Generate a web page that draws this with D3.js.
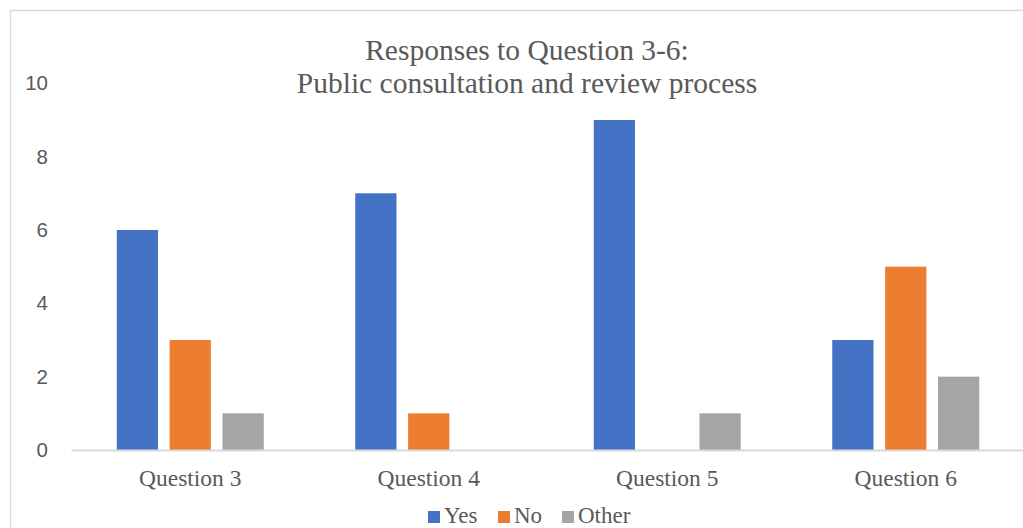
<!DOCTYPE html>
<html>
<head>
<meta charset="utf-8">
<script src="https://cdn.jsdelivr.net/npm/d3@7"></script>
<style>
  body { margin: 0; background: #fff; }
  svg { display: block; }
</style>
</head>
<body>
<div id="chart"></div>
<script>
// chart data
var categories = ["Question 3", "Question 4", "Question 5", "Question 6"];
var series = ["Yes", "No", "Other"];
var yes = [6, 7, 9, 3];
var no = [3, 1, 0, 5];
var other = [1, 0, 1, 2];
var y_ticks = [0, 2, 4, 6, 8, 10];
var title_lines = ["Responses to Question 3-6:", "Public consultation and review process"];

var colors = { Yes: "#4472c4", No: "#ed7d31", Other: "#a5a5a5" };
var values = { Yes: yes, No: no, Other: other };

var width = 1023, height = 528,
    plot = { left: 71, right: 1025, top: 83.3, bottom: 450 },
    text_color = "#595959",
    serif = "'Liberation Serif', 'Times New Roman', serif",
    sans = "'Liberation Sans', Arial, sans-serif";

var svg = d3.select("#chart").append("svg")
    .attr("width", width)
    .attr("height", height);

// chart frame (right and bottom run off the picture)
svg.append("rect")
    .attr("x", 10.5).attr("y", 10.5)
    .attr("width", 1030).attr("height", 540)
    .attr("fill", "#fff")
    .attr("stroke", "#d9d9d9")
    .attr("stroke-width", 1.5);

// scales
var x = d3.scaleBand()
    .domain(categories)
    .range([plot.left, plot.right])
    .paddingInner(0).paddingOuter(0);

var group_w = 147;
var x_inner = d3.scaleBand()
    .domain(series)
    .range([-group_w / 2, group_w / 2])
    .paddingInner(0.22).paddingOuter(0);

var y = d3.scaleLinear()
    .domain([0, 10])
    .range([plot.bottom, plot.top]);

// title
svg.append("text")
    .attr("text-anchor", "middle")
    .style("font-family", serif)
    .style("font-size", "29.5px")
    .attr("fill", text_color)
    .selectAll("tspan")
    .data(title_lines)
    .enter().append("tspan")
    .attr("x", 527)
    .attr("y", function(d, i) { return 59.5 + i * 33; })
    .text(function(d) { return d; });

// y axis labels (no axis line)
var y_axis = svg.append("g")
    .attr("transform", "translate(48,0)")
    .call(d3.axisLeft(y).tickValues(y_ticks).tickSize(0).tickPadding(0));
y_axis.select(".domain").remove();
y_axis.selectAll("text")
    .style("font-family", sans)
    .style("font-size", "20.5px")
    .attr("fill", text_color);

// bars
var groups = svg.append("g").selectAll("g")
    .data(categories)
    .enter().append("g")
    .attr("transform", function(d) { return "translate(" + (x(d) + x.bandwidth() / 2) + ",0)"; });

groups.selectAll("rect")
    .data(function(d, i) {
        return series.map(function(s) { return { key: s, value: values[s][i] }; });
    })
    .enter().append("rect")
    .filter(function(d) { return d.value > 0; })
    .attr("x", function(d) { return x_inner(d.key); })
    .attr("y", function(d) { return y(d.value); })
    .attr("width", x_inner.bandwidth())
    .attr("height", function(d) { return y(0) - y(d.value); })
    .attr("fill", function(d) { return colors[d.key]; });

// x axis
var x_axis = svg.append("g")
    .attr("transform", "translate(0," + plot.bottom + ")")
    .call(d3.axisBottom(x).tickSize(0));
x_axis.select(".domain")
    .attr("stroke", "#d9d9d9")
    .attr("stroke-width", 2);
x_axis.selectAll("text")
    .attr("y", 36).attr("dy", null)
    .style("font-family", serif)
    .style("font-size", "23.5px")
    .attr("fill", text_color);

// legend
var legend = svg.append("g").attr("transform", "translate(0,517)");
var legend_x = [428, 498, 562];
var items = legend.selectAll("g")
    .data(series)
    .enter().append("g")
    .attr("transform", function(d, i) { return "translate(" + legend_x[i] + ",0)"; });
items.append("rect")
    .attr("x", 0).attr("y", -6)
    .attr("width", 12).attr("height", 12)
    .attr("fill", function(d) { return colors[d]; });
items.append("text")
    .attr("x", 16).attr("y", 6)
    .style("font-family", serif)
    .style("font-size", "23px")
    .attr("fill", text_color)
    .text(function(d) { return d; });
</script>
</body>
</html>
